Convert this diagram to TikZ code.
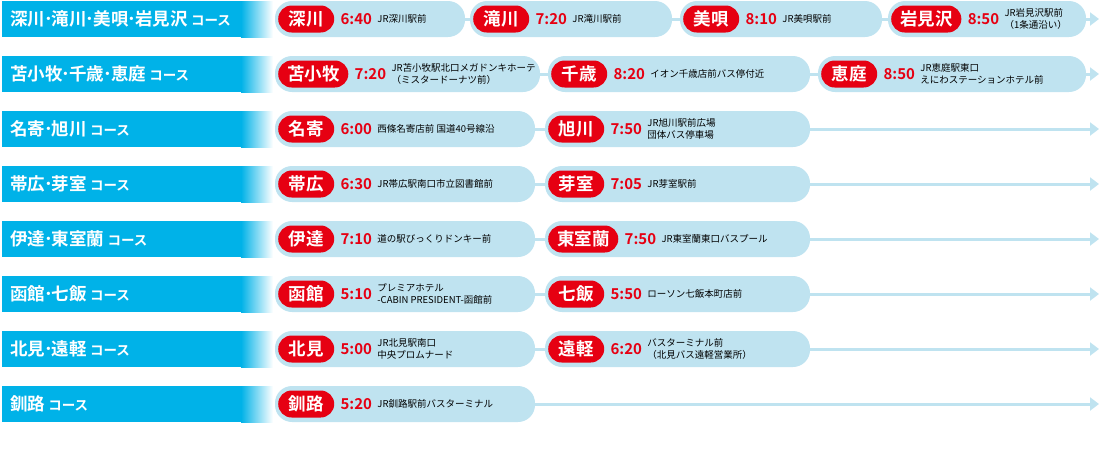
\documentclass[tikz,border=0pt]{standalone}
\usepackage{fontspec}
\setmainfont{Noto Sans CJK JP}
\newfontfamily\jpbold{Noto Sans CJK JP Bold}
\usepackage{xcolor}
\definecolor{kcyan}{HTML}{00B2E8}
\definecolor{kpale}{HTML}{BFE3F0}
\definecolor{kred}{HTML}{E60012}
\usetikzlibrary{shapes.misc,positioning,arrows.meta}
\tikzset{
  kopf/.style={anchor=west,inner sep=0pt,text=white,font=\jpbold\fontsize{17.5}{17.5}\selectfont},
  ort/.style={rounded rectangle,fill=kred,text=white,minimum height=27pt,minimum width=68pt,inner xsep=6pt,inner ysep=0pt,font=\jpbold\fontsize{17.5}{17.5}\selectfont},
  zeit/.style={anchor=west,inner sep=0pt,text=kred,font=\jpbold\fontsize{15}{15}\selectfont},
  halt/.style={anchor=west,inner sep=0pt,align=left,font=\fontsize{9.5}{12}\selectfont},
}
% #1 name, #2 y, #3 x start, #4 x end, #5 label, #6 time, #7 place
\newcommand\busstop[7]{%
  \fill[kpale,rounded corners=17pt] (#3pt,#2pt-18pt) rectangle (#4pt,#2pt+18pt);
  \node[ort,anchor=west] (#1-o) at (#3pt+3pt,#2pt) {#5};
  \node[zeit,right=6pt of #1-o] (#1-z) {#6};
  \node[halt,right=5pt of #1-z] (#1-h) {#7};
}
% #1 name, #2 y, #3 header
\newcommand\kurs[3]{%
  \fill[kcyan] (2pt,#2pt-18pt) rectangle (242pt,#2pt+18pt);
  \shade[left color=kcyan,right color=white] (241pt,#2pt-18pt) rectangle (273pt,#2pt+18pt);
  \node[kopf] (#1) at (10pt,#2pt) {#3};
  \coordinate (#1-a) at (275pt,#2pt);
  \coordinate (#1-e) at (1099pt,#2pt);
  \draw[kpale,line width=3pt,-{Triangle[length=9pt,width=13pt]}] (#1-a)--(#1-e);
}
\newcommand\kx{{\fontsize{13.5}{13.5}\selectfont\ コース}}
\newcommand\kd{\hspace{-1pt}･\hspace{-1pt}}
\begin{document}
\begin{tikzpicture}
\useasboundingbox (0,0) rectangle (1101pt,-472pt);
%%Zeile 1
\kurs{k1}{-19}{深川\kd 滝川\kd 美唄\kd 岩見沢\kx}
\busstop{a1}{-19}{275}{465}{深川}{6:40}{JR深川駅前}
\busstop{a2}{-19}{470}{672}{滝川}{7:20}{JR滝川駅前}
\busstop{a3}{-19}{680}{882}{美唄}{8:10}{JR美唄駅前}
\busstop{a4}{-19}{888}{1086}{岩見沢}{8:50}{JR岩見沢駅前\\（1条通沿い）}
%%Zeile 2
\kurs{k2}{-74}{苫小牧\kd 千歳\kd 恵庭\kx}
\busstop{b1}{-74}{275}{540}{苫小牧}{7:20}{JR苫小牧駅北口メガドンキホーテ\\（ミスタードーナツ前）}
\busstop{b2}{-74}{548}{810}{千歳}{8:20}{イオン千歳店前バス停付近}
\busstop{b3}{-74}{818}{1086}{恵庭}{8:50}{JR恵庭駅東口\\えにわステーションホテル前}
%%Zeile 3
\kurs{k3}{-129}{名寄\kd 旭川\kx}
\busstop{c1}{-129}{275}{535}{名寄}{6:00}{西條名寄店前 国道40号線沿}
\busstop{c2}{-129}{545}{810}{旭川}{7:50}{JR旭川駅前広場\\団体バス停車場}
%%Zeile 4
\kurs{k4}{-184}{帯広\kd 芽室\kx}
\busstop{d1}{-184}{275}{535}{帯広}{6:30}{JR帯広駅南口市立図書館前}
\busstop{d2}{-184}{545}{810}{芽室}{7:05}{JR芽室駅前}
%%Zeile 5
\kurs{k5}{-239}{伊達\kd 東室蘭\kx}
\busstop{e1}{-239}{275}{535}{伊達}{7:10}{道の駅びっくりドンキー前}
\busstop{e2}{-239}{545}{810}{東室蘭}{7:50}{JR東室蘭東口バスプール}
%%Zeile 6
\kurs{k6}{-294}{函館\kd 七飯\kx}
\busstop{f1}{-294}{275}{535}{函館}{5:10}{プレミアホテル\\-CABIN PRESIDENT-函館前}
\busstop{f2}{-294}{545}{810}{七飯}{5:50}{ローソン七飯本町店前}
%%Zeile 7
\kurs{k7}{-349}{北見\kd 遠軽\kx}
\busstop{g1}{-349}{275}{535}{北見}{5:00}{JR北見駅南口\\中央プロムナード}
\busstop{g2}{-349}{545}{810}{遠軽}{6:20}{バスターミナル前\\（北見バス遠軽営業所）}
%%Zeile 8
\kurs{k8}{-404}{釧路\kx}
\busstop{h1}{-404}{275}{535}{釧路}{5:20}{JR釧路駅前バスターミナル}
\end{tikzpicture}
\end{document}
